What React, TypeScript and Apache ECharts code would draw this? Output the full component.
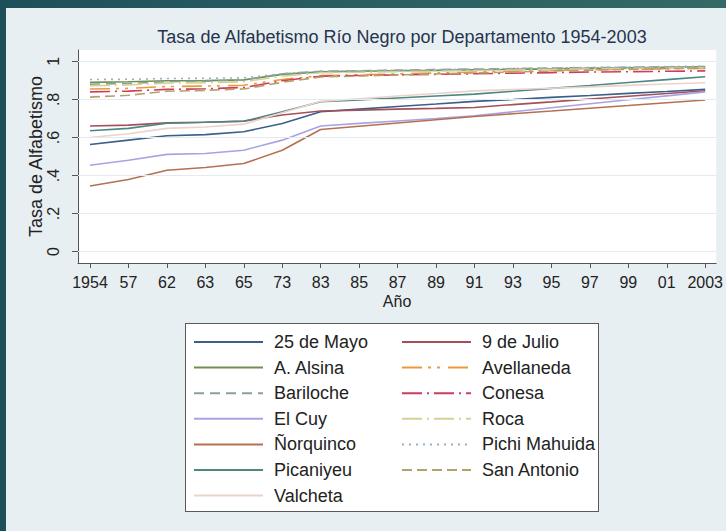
import React, { useEffect, useRef } from "react";
import * as echarts from "echarts";

const categories = ["1954", "57", "62", "63", "65", "73", "83", "85", "87", "89", "91", "93", "95", "97", "99", "01", "2003"];
const yTicks = [0, 0.2, 0.4, 0.6, 0.8, 1];

const mayo25 = [0.563, 0.586, 0.609, 0.615, 0.630, 0.674, 0.735, 0.749, 0.763, 0.776, 0.790, 0.800, 0.811, 0.821, 0.832, 0.842, 0.853];
const julio9 = [0.660, 0.665, 0.677, 0.680, 0.686, 0.718, 0.739, 0.744, 0.749, 0.753, 0.758, 0.773, 0.787, 0.802, 0.817, 0.831, 0.846];
const alsina = [0.890, 0.893, 0.898, 0.899, 0.903, 0.932, 0.945, 0.948, 0.951, 0.953, 0.956, 0.958, 0.961, 0.964, 0.966, 0.969, 0.972];
const avellaneda = [0.855, 0.858, 0.868, 0.870, 0.875, 0.905, 0.925, 0.930, 0.934, 0.939, 0.944, 0.948, 0.953, 0.956, 0.959, 0.961, 0.963];
const bariloche = [0.880, 0.884, 0.893, 0.896, 0.902, 0.935, 0.948, 0.951, 0.954, 0.957, 0.960, 0.962, 0.965, 0.967, 0.969, 0.971, 0.973];
const conesa = [0.840, 0.844, 0.853, 0.856, 0.863, 0.898, 0.922, 0.926, 0.929, 0.932, 0.935, 0.938, 0.941, 0.944, 0.946, 0.948, 0.950];
const elCuy = [0.454, 0.480, 0.511, 0.516, 0.533, 0.586, 0.660, 0.674, 0.687, 0.700, 0.714, 0.735, 0.756, 0.777, 0.798, 0.819, 0.840];
const roca = [0.872, 0.876, 0.886, 0.888, 0.893, 0.922, 0.940, 0.943, 0.946, 0.949, 0.952, 0.955, 0.958, 0.961, 0.963, 0.965, 0.967];
const norquinco = [0.345, 0.379, 0.428, 0.442, 0.463, 0.533, 0.642, 0.659, 0.676, 0.693, 0.710, 0.725, 0.739, 0.754, 0.768, 0.783, 0.797];
const pichiMahuida = [0.905, 0.906, 0.910, 0.911, 0.914, 0.936, 0.948, 0.951, 0.954, 0.957, 0.960, 0.963, 0.966, 0.968, 0.970, 0.973, 0.975];
const picaniyeu = [0.635, 0.648, 0.675, 0.680, 0.685, 0.735, 0.788, 0.798, 0.808, 0.818, 0.828, 0.843, 0.858, 0.873, 0.889, 0.904, 0.919];
const sanAntonio = [0.812, 0.822, 0.843, 0.848, 0.855, 0.890, 0.918, 0.923, 0.929, 0.934, 0.939, 0.944, 0.949, 0.954, 0.958, 0.962, 0.965];
const valcheta = [0.600, 0.620, 0.648, 0.655, 0.670, 0.730, 0.790, 0.804, 0.818, 0.831, 0.845, 0.852, 0.859, 0.866, 0.874, 0.881, 0.888];

const seriesDefs = [
  { name: "25 de Mayo", data: mayo25, color: "#3b5f8a", dash: "solid" as any },
  { name: "9 de Julio", data: julio9, color: "#a4505a", dash: "solid" as any },
  { name: "A. Alsina", data: alsina, color: "#6f9050", dash: "solid" as any },
  { name: "Avellaneda", data: avellaneda, color: "#eb9a3a", dash: [20, 6, 3, 6, 3, 8] as any },
  { name: "Bariloche", data: bariloche, color: "#86a39a", dash: [10, 6] as any },
  { name: "Conesa", data: conesa, color: "#d23a5e", dash: [20, 5, 2, 5] as any },
  { name: "El Cuy", data: elCuy, color: "#a9a3e3", dash: "solid" as any },
  { name: "Roca", data: roca, color: "#d6d09a", dash: [20, 5, 2, 5] as any },
  { name: "Ñorquinco", data: norquinco, color: "#b5714f", dash: "solid" as any },
  { name: "Pichi Mahuida", data: pichiMahuida, color: "#9aaec2", dash: [2, 5] as any },
  { name: "Picaniyeu", data: picaniyeu, color: "#4b8880", dash: "solid" as any },
  { name: "San Antonio", data: sanAntonio, color: "#b3a26a", dash: [10, 5] as any },
  { name: "Valcheta", data: valcheta, color: "#ecd2cc", dash: "solid" as any },
];

const legendCol1 = ["25 de Mayo", "A. Alsina", "Bariloche", "El Cuy", "Ñorquinco", "Picaniyeu", "Valcheta"];
const legendCol2 = ["9 de Julio", "Avellaneda", "Conesa", "Roca", "Pichi Mahuida", "San Antonio"];

const FONT = "Liberation Sans, Arial, Helvetica, sans-serif";

export default function App() {
  const ref = useRef<HTMLDivElement>(null);
  useEffect(() => {
    if (!ref.current) return;
    const chart = echarts.init(ref.current, undefined, { renderer: "svg" });
    const legendCommon = {
      orient: "vertical",
      top: 333,
      padding: 0,
      itemWidth: 69,
      itemHeight: 14,
      itemGap: 7.6,
      selectedMode: false,
      itemStyle: { opacity: 0 },
      textStyle: { fontFamily: FONT, fontSize: 18, color: "#222", lineHeight: 17, padding: [0, 0, 0, 6] },
    };
    chart.setOption({
      animation: false,
      backgroundColor: "transparent",
      textStyle: { fontFamily: FONT },
      title: {
        text: "Tasa de Alfabetismo Río Negro por Departamento 1954-2003",
        left: 397,
        top: 23,
        textAlign: "center",
        textStyle: { fontFamily: FONT, fontSize: 18, fontWeight: "normal", color: "#26344d" },
      },
      grid: { left: 78, right: 9, top: 50, bottom: 268, show: true, backgroundColor: "#ffffff", borderWidth: 0 },
      xAxis: {
        type: "value",
        min: -0.3117,
        max: 16.2857,
        name: "Año",
        nameLocation: "middle",
        nameGap: 30,
        nameMoveOverlap: false,
        nameTextStyle: { fontFamily: FONT, fontSize: 16, color: "#222" },
        axisLine: { show: true, onZero: false, lineStyle: { color: "#555", width: 1 } },
        axisTick: { show: true, length: 5, customValues: categories.map((_, i) => i), lineStyle: { color: "#555" } },
        axisLabel: {
          customValues: categories.map((_, i) => i),
          formatter: (v: number) => categories[Math.round(v)] ?? "",
          fontFamily: FONT,
          fontSize: 16,
          color: "#222",
          margin: 11,
        },
        splitLine: { show: false },
      },
      yAxis: {
        type: "value",
        min: -0.06,
        max: 1.06,
        name: "Tasa de Alfabetismo",
        nameLocation: "middle",
        nameGap: 33,
        nameMoveOverlap: false,
        nameTextStyle: { fontFamily: FONT, fontSize: 18, color: "#222" },
        axisLine: { show: true, onZero: false, lineStyle: { color: "#555", width: 1 } },
        axisTick: { show: true, length: 6, customValues: yTicks, lineStyle: { color: "#555" } },
        axisLabel: {
          customValues: yTicks,
          rotate: 90,
          formatter: (v: number) => (v === 0 ? "0" : v >= 1 ? "1" : String(Math.round(v * 10) / 10).replace(/^0/, "")),
          fontFamily: FONT,
          fontSize: 16,
          color: "#222",
          margin: 17,
        },
        splitLine: { show: false },
      },
      legend: [
        { ...legendCommon, left: 193, data: legendCol1 },
        { ...legendCommon, left: 401, data: legendCol2 },
      ],
      series: [
        {
          name: "__grid",
          type: "line",
          data: [],
          silent: true,
          markLine: {
            silent: true,
            symbol: ["none", "none"],
            label: { show: false },
            lineStyle: { color: "#e4ebef", width: 1, type: "solid" },
            data: yTicks.map((v) => ({ yAxis: v })),
          },
        },
        ...seriesDefs.map((s) => ({
          name: s.name,
          type: "line",
          data: s.data.map((v, i) => [i, v]),
          symbol: "none",
          showSymbol: false,
          lineStyle: { color: s.color, width: 1.6, type: s.dash },
          itemStyle: { color: s.color },
        })),
      ],
    });
    return () => chart.dispose();
  }, []);

  return (
    <div style={{ position: "fixed", left: 0, top: 0, width: 726, height: 531, background: "linear-gradient(90deg, #1d4f5a 0%, #2a5f62 50%, #336a66 100%)", overflow: "hidden" }}>
      <div style={{ position: "absolute", left: 6, top: 8, width: 720, height: 523, background: "#e8eff2" }} />
      <div style={{ position: "absolute", left: 185, top: 322.5, width: 412, height: 187, background: "#ffffff", border: "1px solid #5a5a5a" }} />
      <div ref={ref} style={{ position: "absolute", left: 0, top: 0, width: 726, height: 531 }} />
    </div>
  );
}
